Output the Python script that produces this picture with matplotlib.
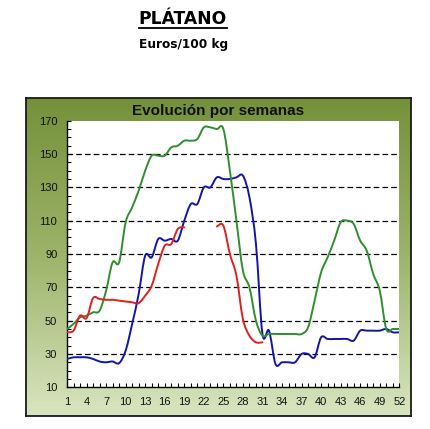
import numpy as np
import matplotlib
matplotlib.use("Agg")
import matplotlib.pyplot as plt
from matplotlib.path import Path
from matplotlib.patches import PathPatch
from matplotlib.lines import Line2D
from matplotlib.colors import LinearSegmentedColormap

# ---------------- data ----------------
weeks = list(range(1, 53))
green = [45, 48, 52, 53, 55, 56, 68, 85, 85, 109, 118, 128, 140, 149, 149, 149,
         154, 155, 158, 158, 159, 166, 166, 165, 165, 140, 110, 80, 70, 50, 41, 42,
         42, 42, 42, 42, 42, 46, 62, 79, 88, 98, 109, 110, 108, 98, 92, 78, 68, 45,
         45, 45]
blue = [27, 28, 28, 28, 27, 25.5, 25, 25.5, 24.5, 32, 48, 66, 89, 88, 99, 98,
        99, 98, 110, 120, 120, 130, 130, 136, 135, 135, 136, 137, 124, 96, 42, 44,
        24, 25, 25, 25, 30, 30, 28, 40, 39, 39, 39, 39, 38, 44, 44, 44, 44, 45,
        43, 43]
red = [43, 44, 53, 51.5, 63.5, 63, 62.5, 62.5, 62, 61.5, 61, 60.5, 65, 71, 84, 95,
       96, 105, 106, None, None, None, None, 106.5, 107, 90, 77, 51, 41, 37, 37]
red = red + [None] * (len(weeks) - len(red))

series_colors = {"green": "#2F8F2F", "blue": "#1414A8", "red": "#E0201E"}
x_label_weeks = list(range(1, 53, 3))
y_major = list(range(10, 171, 20))
y_minor = list(range(10, 171, 5))

# ---------------- figure ----------------
W, H = 431, 429
fig = plt.figure(figsize=(W / 100, H / 100), dpi=100)
fig.patch.set_facecolor("white")

# outer panel with vertical gradient
px0, py0, px1, py1 = 26, 98, 411, 416
bg = fig.add_axes([px0 / W, 1 - py1 / H, (px1 - px0) / W, (py1 - py0) / H])
cmap = LinearSegmentedColormap.from_list("olive", ["#74913A", "#9DB46A", "#D9E5C0"])
grad = np.linspace(0, 1, 256).reshape(-1, 1)
bg.imshow(grad, aspect="auto", cmap=cmap, extent=[0, 1, 0, 1], origin="upper")
bg.set_xticks([])
bg.set_yticks([])
for s in bg.spines.values():
    s.set_color("#1a1a1a")
    s.set_linewidth(1.3)

bg.text(0.5, 1 - (111 - py0) / (py1 - py0), "Evolución por semanas",
        transform=bg.transAxes, ha="center", va="center",
        fontsize=11, fontweight="bold", family="Liberation Sans", color="#111111")

# main plot area
ax_l, ax_r, ax_t, ax_b = 67, 399.3, 120.7, 387.3
ax = fig.add_axes([ax_l / W, 1 - ax_b / H, (ax_r - ax_l) / W, (ax_b - ax_t) / H])
ax.set_facecolor("white")
ax.set_xlim(1, 52)
ax.set_ylim(10, 170)
ax.spines["top"].set_visible(False)
ax.spines["right"].set_visible(False)
for s in ("left", "bottom"):
    ax.spines[s].set_color("black")
    ax.spines[s].set_linewidth(1.0)

for v in y_major[1:-1]:
    ax.axhline(v, color="black", lw=0.9, ls=(0, (4.5, 2.5)), zorder=1)


def smooth_segments(xs, ys):
    segs, cur = [], []
    for xv, yv in zip(xs, ys):
        if yv is None:
            if cur:
                segs.append(cur)
            cur = []
        else:
            cur.append((xv, yv))
    if cur:
        segs.append(cur)
    paths = []
    for seg in segs:
        pts = np.array(seg, dtype=float)
        n = len(pts)
        verts = [pts[0]]
        codes = [Path.MOVETO]
        for i in range(n - 1):
            p0 = pts[max(i - 1, 0)]
            p1 = pts[i]
            p2 = pts[i + 1]
            p3 = pts[min(i + 2, n - 1)]
            c1 = p1 + (p2 - p0) / 6.0
            c2 = p2 - (p3 - p1) / 6.0
            verts += [c1, c2, p2]
            codes += [Path.CURVE4] * 3
        paths.append(Path(verts, codes))
    return paths


for name, data in (("blue", blue), ("green", green), ("red", red)):
    for p in smooth_segments(weeks, data):
        ax.add_patch(PathPatch(p, fill=False, edgecolor=series_colors[name],
                               lw=1.4, zorder=3, capstyle="round",
                               joinstyle="round"))

ax.set_xticks(weeks)
ax.set_xticklabels([str(w) if w in x_label_weeks else "" for w in weeks])
ax.set_yticks(y_major)
ax.set_yticklabels([str(v) for v in y_major])
ax.set_yticks(y_minor, minor=True)
ax.tick_params(axis="x", which="major", direction="in", length=3, width=0.8,
               pad=7, labelsize=8, colors="black")
ax.tick_params(axis="y", which="major", direction="in", length=3, width=0.8,
               pad=7, labelsize=8, colors="black")
ax.tick_params(axis="y", which="minor", direction="in", length=3, width=0.8)
for lab in ax.get_xticklabels() + ax.get_yticklabels():
    lab.set_family("Liberation Sans")
    lab.set_color("#111111")

# headings
t1 = fig.text(183 / W, 1 - 19.5 / H, "PLÁTANO", ha="center", va="center",
              fontsize=12.3, fontweight="bold", family="DejaVu Sans", color="black")
fig.text(183.5 / W, 1 - 44.5 / H, "Euros/100 kg", ha="center", va="center",
         fontsize=8.7, fontweight="bold", family="DejaVu Sans", color="black")

fig.canvas.draw()
bb = t1.get_window_extent(renderer=fig.canvas.get_renderer())
uy = (bb.y0 + 0.5) / H
fig.add_artist(Line2D([bb.x0 / W, bb.x1 / W], [uy, uy], color="black", lw=1.3,
                      transform=fig.transFigure))

fig.savefig("out.png", dpi=100)
